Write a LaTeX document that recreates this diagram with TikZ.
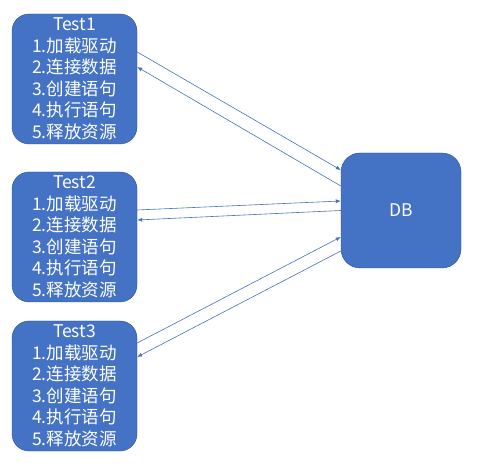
\documentclass[tikz,border=0pt]{standalone}
\usepackage{fontspec}
\newfontfamily\cjk{Noto Sans CJK SC}
\usetikzlibrary{arrows.meta}
\definecolor{boxblue}{HTML}{4472C4}
\definecolor{boxline}{HTML}{2F528F}
\tikzset{
  testbox/.style={draw=boxline, fill=boxblue, rounded corners=17pt, text=white, align=center,
    minimum width=125pt, minimum height=130pt, inner sep=0pt,
    font=\cjk\fontsize{17.5}{21.5}\selectfont},
  arr/.style={draw=boxblue, semithick, -{Latex[length=5pt,width=4pt]}}
}
\begin{document}
\begin{tikzpicture}[x=1pt,y=1pt]
           \useasboundingbox (0,0) rectangle (481,471);
           \node[testbox] (t1) at (74.5,392) {Test1\\1.加载驱动\\2.连接数据\\3.创建语句\\4.执行语句\\5.释放资源};
           \node[testbox] (t2) at (74.5,234) {Test2\\1.加载驱动\\2.连接数据\\3.创建语句\\4.执行语句\\5.释放资源};
           \node[testbox] (t3) at (74.5,85) {Test3\\1.加载驱动\\2.连接数据\\3.创建语句\\4.执行语句\\5.释放资源};
           \node[testbox, minimum width=120pt, minimum height=115pt, rounded corners=19pt] (db) at (401,260.5) {DB};
           \draw[arr] ([yshift=27pt]t1.east)--([yshift=40.5pt]db.west);
           \draw[arr] ([yshift=24.5pt]db.west)--([yshift=12pt]t1.east);
           \draw[arr] ([yshift=27pt]t2.east)--([yshift=9.5pt]db.west);
           \draw[arr] ([yshift=0pt]db.west)--([yshift=17pt]t2.east);
           \draw[arr] ([yshift=43pt]t3.east)--([yshift=-26.5pt]db.west);
           \draw[arr] ([yshift=-40.5pt]db.west)--([yshift=29pt]t3.east);
       \end{tikzpicture}
\end{document}
